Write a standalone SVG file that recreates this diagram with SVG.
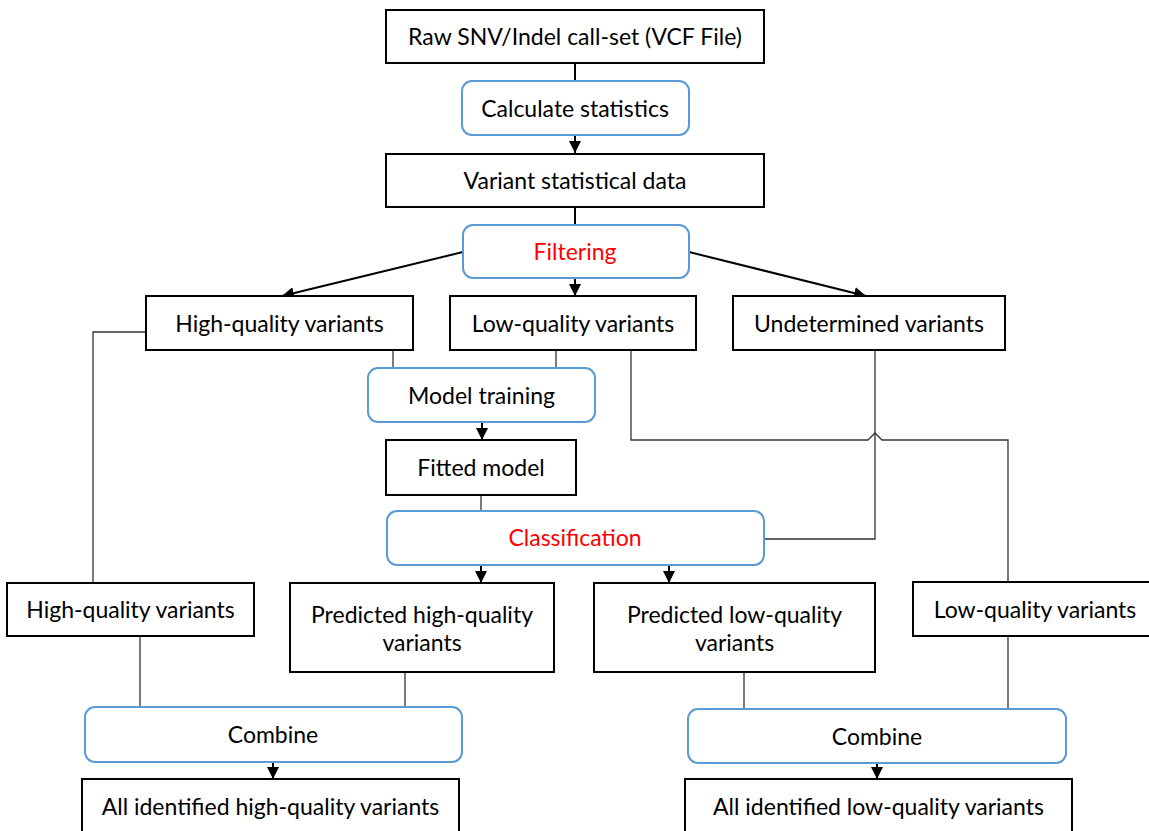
<svg xmlns="http://www.w3.org/2000/svg" width="1149" height="831" viewBox="0 0 1149 831">
<defs>
<marker id="arr" viewBox="0 0 12 12" refX="12" refY="6" markerWidth="12" markerHeight="12" markerUnits="userSpaceOnUse" orient="auto">
<path d="M0,0 L12,6 L0,12 z" fill="#000"/>
</marker>
<style>
.box{fill:#fff;stroke:#000;stroke-width:2}
.rbox{fill:#fff;stroke:#5B9BD5;stroke-width:2}
.t{font-family:Lato,"Liberation Sans",sans-serif;font-size:23px;fill:#000;text-anchor:middle}
.red{fill:#FF0000}
.a{stroke:#000;stroke-width:2;fill:none}
.th{stroke:#333;stroke-width:1.3;fill:none}
</style>
</defs>
<rect width="1149" height="831" fill="#fff"/>
<g id="connectors">
<line class="a" x1="575" y1="63" x2="575" y2="81"/>
<line class="a" x1="575" y1="135" x2="575" y2="153" marker-end="url(#arr)"/>
<line class="a" x1="575" y1="207" x2="575" y2="225"/>
<line class="a" x1="575" y1="278" x2="575" y2="296" marker-end="url(#arr)"/>
<line class="a" x1="463" y1="252" x2="282" y2="296" marker-end="url(#arr)"/>
<line class="a" x1="689" y1="252" x2="866" y2="296" marker-end="url(#arr)"/>
<polyline class="th" points="146,332 93,332 93,583"/>
<line class="th" x1="393" y1="350" x2="393" y2="368"/>
<line class="th" x1="556" y1="350" x2="556" y2="368"/>
<line class="a" x1="482" y1="422" x2="482" y2="440" marker-end="url(#arr)"/>
<line class="th" x1="481" y1="495" x2="481" y2="511"/>
<path class="th" d="M631,350 V440 H868 L875,433 L882,440 H1008 V582"/>
<polyline class="th" points="875,350 875,539 764,539"/>
<line class="a" x1="481" y1="565" x2="481" y2="583" marker-end="url(#arr)"/>
<line class="a" x1="669" y1="565" x2="669" y2="583" marker-end="url(#arr)"/>
<line class="th" x1="140" y1="636" x2="140" y2="707"/>
<line class="th" x1="405" y1="672" x2="405" y2="707"/>
<line class="a" x1="273" y1="762" x2="273" y2="779" marker-end="url(#arr)"/>
<line class="th" x1="744" y1="672" x2="744" y2="709"/>
<line class="th" x1="1008" y1="636" x2="1008" y2="709"/>
<line class="a" x1="877" y1="763" x2="877" y2="779" marker-end="url(#arr)"/>
</g>
<g id="raw"><rect class="box" x="386" y="10" width="378" height="53"/><text class="t" x="575" y="45">Raw SNV/Indel call-set (VCF File)</text></g>
<g id="calc"><rect class="rbox" x="462" y="81" width="227" height="54" rx="10"/><text class="t" x="575" y="117">Calculate statistics</text></g>
<g id="vsd"><rect class="box" x="386" y="154" width="378" height="53"/><text class="t" x="575" y="189">Variant statistical data</text></g>
<g id="filtering"><rect class="rbox" x="463" y="225" width="226" height="53" rx="10"/><text class="t red" x="575" y="260">Filtering</text></g>
<g id="hq"><rect class="box" x="146" y="296" width="267" height="54"/><text class="t" x="279.5" y="332">High-quality variants</text></g>
<g id="lq"><rect class="box" x="450" y="296" width="246" height="54"/><text class="t" x="573" y="332">Low-quality variants</text></g>
<g id="und"><rect class="box" x="733" y="296" width="272" height="54"/><text class="t" x="869" y="332">Undetermined variants</text></g>
<g id="mt"><rect class="rbox" x="368" y="368" width="227" height="54" rx="10"/><text class="t" x="481.5" y="404">Model training</text></g>
<g id="fm"><rect class="box" x="386" y="440" width="190" height="55"/><text class="t" x="481" y="476">Fitted model</text></g>
<g id="cls"><rect class="rbox" x="387" y="511" width="377" height="54" rx="10"/><text class="t red" x="575" y="546">Classification</text></g>
<g id="hq2"><rect class="box" x="7" y="583" width="247" height="53"/><text class="t" x="130.5" y="618">High-quality variants</text></g>
<g id="phq"><rect class="box" x="290" y="583" width="264" height="89"/><text class="t" x="422" y="623">Predicted high-quality</text><text class="t" x="422" y="651">variants</text></g>
<g id="plq"><rect class="box" x="594" y="583" width="281" height="89"/><text class="t" x="734.5" y="623">Predicted low-quality</text><text class="t" x="734.5" y="651">variants</text></g>
<g id="lq2"><rect class="box" x="913" y="582" width="250" height="54"/><text class="t" x="1035" y="618">Low-quality variants</text></g>
<g id="comb1"><rect class="rbox" x="85" y="707" width="377" height="55" rx="10"/><text class="t" x="273" y="743">Combine</text></g>
<g id="comb2"><rect class="rbox" x="688" y="709" width="378" height="54" rx="10"/><text class="t" x="877" y="745">Combine</text></g>
<g id="allhq"><rect class="box" x="82" y="779" width="377" height="60"/><text class="t" x="270.5" y="815">All identified high-quality variants</text></g>
<g id="alllq"><rect class="box" x="685" y="779" width="387" height="60"/><text class="t" x="878.5" y="815">All identified low-quality variants</text></g>
</svg>
